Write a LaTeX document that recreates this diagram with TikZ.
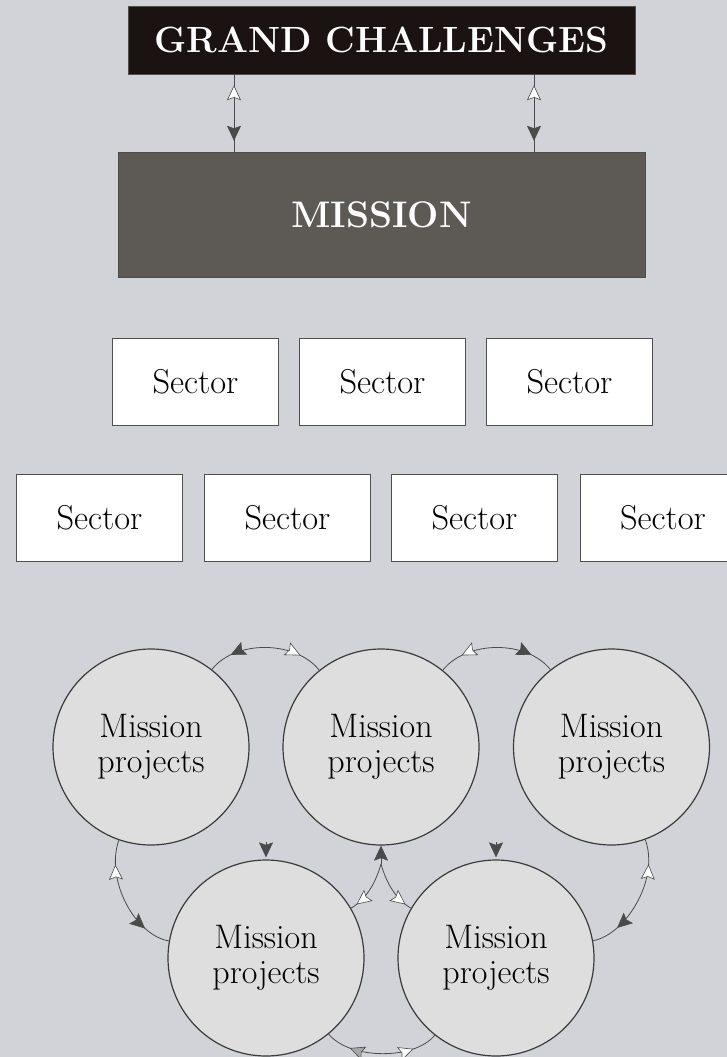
\documentclass[tikz,border=0pt]{standalone}
\usepackage{tikz}
\usetikzlibrary{arrows.meta,decorations.markings}

\definecolor{bgcol}{HTML}{D2D3D9}
\definecolor{gcfill}{HTML}{1B1311}
\definecolor{misfill}{HTML}{5D5A55}
\definecolor{circfill}{HTML}{DEDEDE}
\definecolor{linkcol}{HTML}{4A4A4A}
\definecolor{boxline}{HTML}{4F4F4F}

\begin{document}
\begin{tikzpicture}[
    x=1pt, y=-1pt,
    sector/.style={draw=boxline, fill=white, line width=1pt,
        minimum width=166pt, minimum height=87pt, inner sep=0pt,
        font=\fontsize{34.5}{38}\selectfont},
    project/.style={circle, draw=linkcol!80!black, fill=circfill,
        line width=1.2pt, minimum size=196pt, inner sep=0pt, align=center,
        font=\fontsize{34}{35}\selectfont},
    link/.style={draw=linkcol, line width=0.8pt},
    darkhead/.tip={Stealth[length=15pt,width=14pt,inset=2.5pt,fill=linkcol,line width=0.6pt]},
    lighthead/.tip={Stealth[length=15pt,width=14pt,inset=2.5pt,fill=white,line width=0.6pt]},
    greyhead/.tip={Stealth[length=15pt,width=14pt,inset=2.5pt,fill=gray!70,line width=0.6pt]},
    % heads sitting somewhere along a link
    darkto/.style={postaction={decorate,decoration={markings,
        mark=at position #1 with {\arrow{darkhead}}}}},
    darkback/.style={postaction={decorate,decoration={markings,
        mark=at position #1 with {\arrowreversed{darkhead}}}}},
    lightto/.style={postaction={decorate,decoration={markings,
        mark=at position #1 with {\arrow{lighthead}}}}},
    lightback/.style={postaction={decorate,decoration={markings,
        mark=at position #1 with {\arrowreversed{lighthead}}}}},
    greyback/.style={postaction={decorate,decoration={markings,
        mark=at position #1 with {\arrowreversed{greyhead}}}}},
    ]

    % page
    \useasboundingbox (0,0) rectangle (727,1057);
    \clip (0,0) rectangle (727,1057);
    \fill[bgcol] (0,0) rectangle (727,1057);

    % top boxes
    \node[draw=boxline, fill=gcfill, line width=0.8pt, minimum width=507pt,
        minimum height=68pt, inner sep=0pt, text=white,
        font=\fontsize{36.5}{40}\selectfont\bfseries]
        (gc) at (381.5,40) {GRAND CHALLENGES};
    \node[draw=black!70, fill=misfill, line width=0.8pt, minimum width=527pt,
        minimum height=125pt, inner sep=0pt, text=white,
        font=\fontsize{37}{40}\selectfont\bfseries]
        (mission) at (381.5,214.5) {MISSION};

    % grand challenges <-> mission
    \draw[link, lightback=0.14, darkto=0.86]
        ([xshift=-147.5pt]gc.south) -- ([xshift=-147.5pt]mission.north);
    \draw[link, lightback=0.14, darkto=0.86]
        ([xshift=152.5pt]gc.south) -- ([xshift=152.5pt]mission.north);

    % sectors
    \node[sector] (seca) at (195.5,381.5) {Sector};
    \node[sector] (secb) at (382.5,381.5) {Sector};
    \node[sector] (secc) at (569.5,381.5) {Sector};
    \node[sector] (secd) at (99.5,517.5) {Sector};
    \node[sector] (sece) at (287.5,517.5) {Sector};
    \node[sector] (secf) at (474.5,517.5) {Sector};
    \node[sector] (secg) at (663,517.5) {Sector};

    % mission projects
    \node[project] (pa) at (151,747) {Mission\\projects};
    \node[project] (pb) at (381,747) {Mission\\projects};
    \node[project] (pc) at (611.5,747) {Mission\\projects};
    \node[project] (pd) at (266,958) {Mission\\projects};
    \node[project] (pe) at (496,958) {Mission\\projects};

    % links between projects
    \draw[link, darkback=0.2, lightto=0.8]
        (pa) .. controls (235,640) and (295,640) .. (pb);
    \draw[link, lightback=0.2, darkto=0.8]
        (pb) .. controls (467,640) and (527,640) .. (pc);
    \draw[link, lightback=0.2, darkto=0.78]
        (pa) .. controls (105,880) and (135,935) .. (pd);
    \draw[link, lightback=0.2, darkto=0.78]
        (pc) .. controls (660,880) and (625,935) .. (pe);
    \draw[link, greyback=0.22, lightto=0.78]
        (pd) .. controls (350,1060) and (415,1060) .. (pe);

    % fork below the middle project
    \coordinate (fork) at (381,864);
    \draw[link, -{darkhead}] (fork) -- (pb);
    \draw[link, lightto=0.88] (fork) .. controls (375,885) and (365,900) .. (pd);
    \draw[link, lightto=0.88] (fork) .. controls (387,885) and (397,900) .. (pe);

    % single heads
    \draw[link, -{darkhead}] ([yshift=17pt]pd.north) -- ([yshift=2pt]pd.north);
    \draw[link, -{darkhead}] ([yshift=17pt]pe.north) -- ([yshift=2pt]pe.north);

\end{tikzpicture}
\end{document}
